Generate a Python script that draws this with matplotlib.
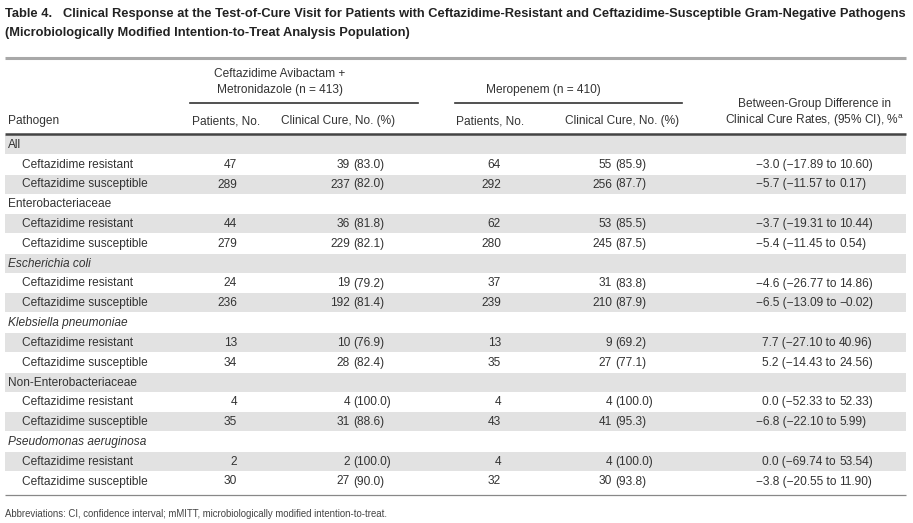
import matplotlib
matplotlib.use("Agg")
import matplotlib.pyplot as plt
from matplotlib.patches import Rectangle

# table content
title_lines = [
    "Table 4.   Clinical Response at the Test-of-Cure Visit for Patients with Ceftazidime-Resistant and Ceftazidime-Susceptible Gram-Negative Pathogens",
    "(Microbiologically Modified Intention-to-Treat Analysis Population)",
]
row_labels = [
    "All", "Ceftazidime resistant", "Ceftazidime susceptible",
    "Enterobacteriaceae", "Ceftazidime resistant", "Ceftazidime susceptible",
    "Escherichia coli", "Ceftazidime resistant", "Ceftazidime susceptible",
    "Klebsiella pneumoniae", "Ceftazidime resistant", "Ceftazidime susceptible",
    "Non-Enterobacteriaceae", "Ceftazidime resistant", "Ceftazidime susceptible",
    "Pseudomonas aeruginosa", "Ceftazidime resistant", "Ceftazidime susceptible",
]
italic_groups = {"Escherichia coli", "Klebsiella pneumoniae", "Pseudomonas aeruginosa"}
is_group = [True, False, False] * 6

caz_patients = ["", "47", "289", "", "44", "279", "", "24", "236", "", "13", "34", "", "4", "35", "", "2", "30"]
caz_cured = ["", "39", "237", "", "36", "229", "", "19", "192", "", "10", "28", "", "4", "31", "", "2", "27"]
caz_pct = ["", "(83.0)", "(82.0)", "", "(81.8)", "(82.1)", "", "(79.2)", "(81.4)", "", "(76.9)", "(82.4)", "", "(100.0)", "(88.6)", "", "(100.0)", "(90.0)"]
mer_patients = ["", "64", "292", "", "62", "280", "", "37", "239", "", "13", "35", "", "4", "43", "", "4", "32"]
mer_cured = ["", "55", "256", "", "53", "245", "", "31", "210", "", "9", "27", "", "4", "41", "", "4", "30"]
mer_pct = ["", "(85.9)", "(87.7)", "", "(85.5)", "(87.5)", "", "(83.8)", "(87.9)", "", "(69.2)", "(77.1)", "", "(100.0)", "(95.3)", "", "(100.0)", "(93.8)"]
diff_low = ["", "\u22123.0 (\u221217.89", "\u22125.7 (\u221211.57", "", "\u22123.7 (\u221219.31", "\u22125.4 (\u221211.45", "",
            "\u22124.6 (\u221226.77", "\u22126.5 (\u221213.09", "", "7.7 (\u221227.10", "5.2 (\u221214.43", "",
            "0.0 (\u221252.33", "\u22126.8 (\u221222.10", "", "0.0 (\u221269.74", "\u22123.8 (\u221220.55"]
diff_high = ["", "10.60)", "0.17)", "", "10.44)", "0.54)", "", "14.86)", "\u22120.02)", "", "40.96)", "24.56)", "",
             "52.33)", "5.99)", "", "53.54)", "11.90)"]
footnote = "Abbreviations: CI, confidence interval; mMITT, microbiologically modified intention-to-treat."

W, H = 913, 523
fig = plt.figure(figsize=(W / 100, H / 100), dpi=100)
ax = fig.add_axes([0, 0, 1, 1])
ax.set_xlim(0, W)
ax.set_ylim(H, 0)
ax.axis("off")

txt = "#333333"
body = ["Liberation Sans", "DejaVu Sans"]
fs = 8.6

# title - no condensed font available, so shrink it until line 1 fits the rule width
renderer = fig.canvas.get_renderer()
titles = []
for i, line in enumerate(title_lines):
    t = ax.text(5, 14 + i * 19, line, fontsize=10, fontweight="bold", family=body,
                color="#222222", va="center", ha="left")
    titles.append(t)
w = titles[0].get_window_extent(renderer).width
tfs = 10 * 900 / w
for t in titles:
    t.set_fontsize(tfs)

ax.plot([5, 906], [58, 58], color="#a8a8a8", lw=2.2, solid_capstyle="butt")

# group headers
ax.text(280, 74, "Ceftazidime Avibactam +", fontsize=fs, family=body, color=txt, ha="center", va="center")
ax.text(280, 90, "Metronidazole (n = 413)", fontsize=fs, family=body, color=txt, ha="center", va="center")
ax.plot([190, 418], [103, 103], color="#333333", lw=1.2)
ax.text(543, 90, "Meropenem (n = 410)", fontsize=fs, family=body, color=txt, ha="center", va="center")
ax.plot([455, 682], [103, 103], color="#333333", lw=1.2)
ax.text(815, 104, "Between-Group Difference in", fontsize=fs, family=body, color=txt, ha="center", va="center")
ax.text(815, 121, "Clinical Cure Rates, (95% CI), %$^{\\mathregular{a}}$", fontsize=fs, family=body, color=txt,
        ha="center", va="center")

hy = 121
ax.text(8, hy, "Pathogen", fontsize=fs, family=body, color=txt, ha="left", va="center")
for cx, lab in [(226, "Patients, No."), (338, "Clinical Cure, No. (%)"),
                (490, "Patients, No."), (622, "Clinical Cure, No. (%)")]:
    ax.text(cx, hy, lab, fontsize=fs, family=body, color=txt, ha="center", va="center")

ax.plot([5, 906], [134, 134], color="#444444", lw=1.8, solid_capstyle="butt")

# rows
top, pitch = 135, 19.8
for i, lab in enumerate(row_labels):
    y0 = top + i * pitch
    yc = y0 + pitch / 2
    if i % 2 == 0:
        ax.add_patch(Rectangle((5, y0), 901, pitch - 0.8, facecolor="#e2e2e2", edgecolor="none", zorder=0))
    if is_group[i]:
        ax.text(8, yc, lab, fontsize=fs, family=body, color=txt, ha="left", va="center",
                style="italic" if lab in italic_groups else "normal")
        continue
    ax.text(22, yc, lab, fontsize=fs, family=body, color=txt, ha="left", va="center")
    ax.text(237, yc, caz_patients[i], fontsize=fs, family=body, color=txt, ha="right", va="center")
    ax.text(350, yc, caz_cured[i], fontsize=fs, family=body, color=txt, ha="right", va="center")
    ax.text(353, yc, caz_pct[i], fontsize=fs, family=body, color=txt, ha="left", va="center")
    ax.text(501, yc, mer_patients[i], fontsize=fs, family=body, color=txt, ha="right", va="center")
    ax.text(612, yc, mer_cured[i], fontsize=fs, family=body, color=txt, ha="right", va="center")
    ax.text(615, yc, mer_pct[i], fontsize=fs, family=body, color=txt, ha="left", va="center")
    ax.text(836, yc, diff_low[i] + " to", fontsize=fs, family=body, color=txt, ha="right", va="center")
    ax.text(839, yc, diff_high[i], fontsize=fs, family=body, color=txt, ha="left", va="center")

ax.plot([5, 906], [495, 495], color="#888888", lw=0.9, solid_capstyle="butt")

ax.text(5, 514, footnote, fontsize=6.9, family=body, color="#444444", ha="left", va="center")

fig.savefig("out.png", dpi=100, facecolor="white")
